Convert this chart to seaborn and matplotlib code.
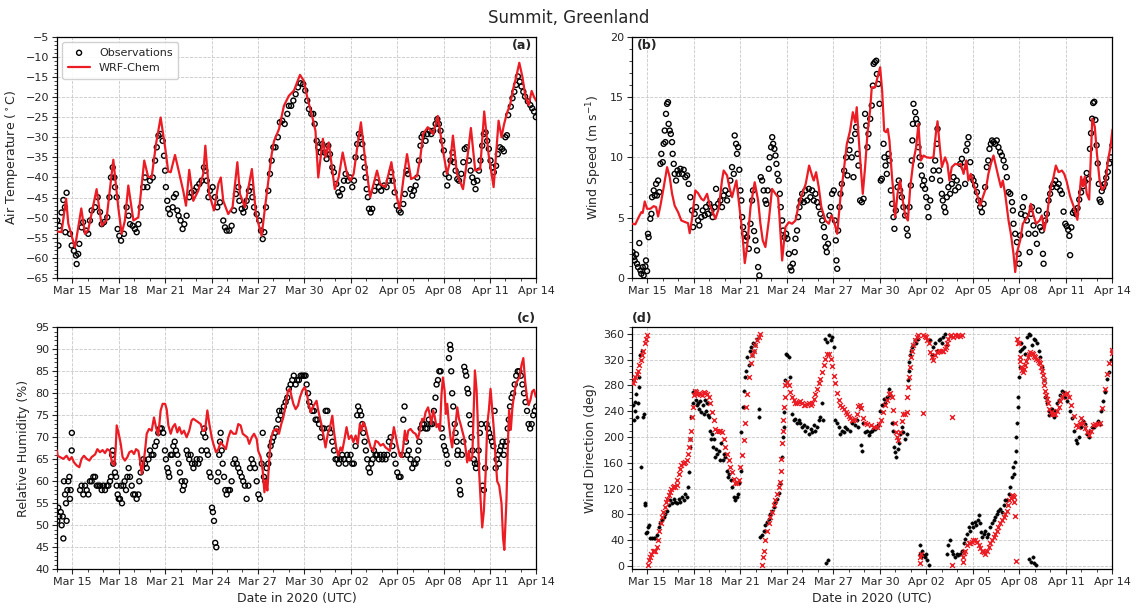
import numpy as np
import pandas as pd
import matplotlib
matplotlib.use('Agg')
import matplotlib.pyplot as plt
import matplotlib.dates as mdates
from matplotlib.ticker import MultipleLocator
import seaborn as sns

# times are days after 2020-03-14 00:00 UTC
start = pd.Timestamp('2020-03-14')

# (a) air temperature
temp_obs_d = [0.03,0.1,0.16,0.3,0.42,0.52,0.55,0.63,0.85,0.96,1.1,1.24,1.28,1.38,1.45,1.6,1.7,1.89,2.03,2.14,2.25,2.47,2.64,2.79,2.9,3.05,3.26,3.4,3.5,3.61,3.72,3.76,3.87,3.93,4.04,4.15,4.34,4.51,4.64,4.73,4.9,5.05,5.16,5.27,5.42,5.59,5.7,5.85,6.02,6.2,6.35,6.46,6.57,6.71,6.84,6.93,7.0,7.05,7.14,7.2,7.31,7.49,7.57,7.7,7.79,7.87,8.0,8.13,8.24,8.39,8.56,8.71,8.86,9.04,9.21,9.36,9.51,9.6,9.69,9.8,9.9,10.07,10.22,10.37,10.55,10.76,10.87,10.98,11.15,11.3,11.45,11.58,11.73,11.8,11.95,12.06,12.16,12.27,12.42,12.55,12.64,12.75,12.92,13.09,13.2,13.31,13.41,13.52,13.67,13.78,13.89,14.0,14.14,14.29,14.42,14.57,14.73,14.9,15.0,15.15,15.29,15.44,15.59,15.76,15.93,16.06,16.19,16.3,16.45,16.58,16.67,16.8,16.9,17.05,17.16,17.31,17.44,17.55,17.66,17.81,17.91,18.07,18.2,18.3,18.45,18.56,18.67,18.82,18.95,19.1,19.21,19.31,19.42,19.53,19.64,19.75,19.81,19.9,19.96,20.03,20.11,20.18,20.29,20.39,20.54,20.67,20.82,20.97,21.15,21.32,21.47,21.62,21.71,21.84,21.97,22.12,22.23,22.4,22.5,22.61,22.7,22.87,22.98,23.09,23.2,23.3,23.41,23.51,23.58,23.69,23.84,23.95,24.1,24.21,24.33,24.49,24.6,24.7,24.81,24.92,25.02,25.13,25.24,25.35,25.45,25.58,25.67,25.78,25.89,26.0,26.15,26.28,26.37,26.49,26.64,26.75,26.86,26.96,27.07,27.18,27.29,27.39,27.5,27.61,27.72,27.82,27.93,28.04,28.15,28.25,28.4,28.51,28.65,28.79,28.9,29.0,29.1,29.18,29.35,29.46,29.58,29.69,29.81,29.93,30.04,30.16,30.27,30.45,30.61,30.73,30.85,30.97]
temp_obs = [-50.7,-56.9,-52,-48.7,-45.6,-47.4,-53.6,-43.8,-54,-56.9,-58.2,-59.4,-61.5,-59,-56.5,-52.4,-51.1,-53.2,-54,-50.7,-48.2,-47.4,-44.9,-48.6,-51.6,-51.1,-49.9,-44.9,-40,-37.5,-40,-42.4,-44.9,-52.8,-54.5,-55.7,-54,-47.4,-49.5,-51.6,-52,-52.8,-53.6,-51.6,-47.4,-42.4,-40,-42.4,-40.8,-40,-35.8,-32.5,-29.6,-29.2,-30.9,-34.6,-38.3,-42.4,-45.8,-47.8,-49.1,-47.4,-44.9,-44.1,-48.2,-49.5,-50.7,-52.8,-51.6,-49.5,-44.9,-43.7,-43.3,-42.4,-41.6,-40.8,-37.5,-38.3,-40.8,-44.9,-43.3,-42.4,-44.9,-47.4,-46.2,-50.7,-52.4,-53.2,-53.2,-52,-48.2,-44.1,-42.4,-45.8,-47.8,-48.7,-47.4,-45.8,-43.3,-42.4,-44.9,-47.4,-49.1,-50.7,-53.2,-55.3,-53.6,-47.4,-43.3,-39.1,-35.8,-32.5,-32.5,-30,-26.3,-25.9,-26.7,-24.2,-22.2,-22.2,-20.9,-19.3,-17.6,-16.6,-16.8,-18.4,-20.9,-23,-24.2,-24.2,-26.7,-30.9,-32.5,-33.8,-31.7,-33.8,-35.4,-32.1,-34.2,-37.5,-38.7,-41.6,-43.7,-44.5,-42.9,-40.8,-39.1,-40.8,-40,-42.4,-40.8,-35,-31.7,-29.2,-30,-31.7,-35,-37.5,-40,-42.9,-44.9,-47.8,-48.7,-47.8,-43.3,-41.2,-42.4,-43.3,-42,-42.4,-40.8,-38.7,-40.8,-43.7,-47,-48.2,-48.7,-46.6,-44.1,-38.3,-39.1,-42.9,-44.5,-43.3,-42,-40,-35.8,-32.1,-30,-29.2,-30.9,-29.2,-28.4,-29.2,-28.4,-26.7,-25.5,-26.7,-28.4,-30.9,-33.3,-39.1,-42,-40,-35.8,-33.8,-36.2,-38.3,-40.4,-40.8,-39.1,-36.2,-32.9,-32.5,-35.8,-38.3,-40,-41.2,-42.9,-40.8,-38.3,-35.8,-32.1,-29.2,-28.8,-30.9,-32.9,-35.8,-37.5,-38.7,-37.1,-34.2,-32.5,-32.9,-33.5,-30,-29.5,-24.5,-22.4,-20.3,-18.7,-17,-14.9,-16.2,-17.4,-18.7,-19.9,-21.1,-22,-22.8,-23.6,-25]
temp_mod_d = [0.0,0.3,0.6,0.74,1.17,1.58,1.82,2.03,2.57,2.9,3.2,3.65,3.97,4.19,4.4,4.62,4.95,5.27,5.65,5.9,6.13,6.41,6.71,7.0,7.2,7.36,7.64,7.85,8.17,8.35,8.56,8.82,9.14,9.47,9.6,9.85,10.16,10.45,10.6,10.76,11.08,11.36,11.67,11.84,12.16,12.31,12.61,12.87,13.24,13.46,13.89,14.04,14.36,14.68,15.0,15.33,15.72,15.97,16.19,16.5,16.72,16.9,17.2,17.37,17.58,17.76,17.97,18.22,18.48,18.76,18.97,19.19,19.45,19.66,19.94,20.26,20.48,20.7,20.91,21.24,21.63,21.89,22.16,22.42,22.64,22.9,23.29,23.5,23.68,23.98,24.33,24.63,24.9,25.22,25.44,25.61,25.87,26.26,26.52,26.77,27.05,27.37,27.63,27.91,28.24,28.56,28.75,28.9,29.1,29.3,29.5,29.7,29.9,30.1,30.3,30.5,30.7,30.85,31.0]
temp_mod = [-53.4,-53.6,-45.3,-51.5,-57.4,-47.7,-54,-53,-42.9,-52,-50.7,-35.6,-47.4,-54,-50.7,-42,-50.7,-49.9,-35.8,-39.8,-40,-31.7,-25.1,-32.5,-38.5,-38.7,-34.4,-37.9,-43.3,-47,-38.1,-45.8,-43.3,-39.1,-32.1,-44.1,-48.2,-41.5,-40,-45.8,-49.1,-47.4,-36.2,-44.1,-47.4,-44.1,-37.9,-49.1,-54.5,-47.4,-34.2,-31,-28,-22.2,-19.7,-18.4,-14.5,-16,-20.1,-24.7,-28.4,-40,-30.4,-35,-31.3,-36.7,-42.9,-40,-33.8,-39.1,-40.8,-39.1,-31.7,-26.3,-35.8,-44.9,-41.6,-38.3,-41.6,-42.4,-36.2,-43.3,-47.8,-40,-34.2,-40.4,-39.6,-35,-29.2,-27.5,-29.2,-24.7,-31.7,-39.1,-35.8,-29.6,-39.1,-42.9,-35.8,-27.7,-38.3,-37.9,-23.6,-34.2,-42.4,-25.9,-30,-27,-24,-22,-18,-15,-11.5,-15,-20,-22,-18.5,-20,-21]

# (b) wind speed
ws_obs_d = [0.06,0.13,0.19,0.28,0.34,0.41,0.49,0.56,0.62,0.71,0.77,0.88,0.92,0.99,1.05,1.09,1.2,1.27,1.31,1.42,1.48,1.57,1.63,1.7,1.78,1.85,1.91,2.0,2.06,2.13,2.17,2.21,2.28,2.34,2.38,2.45,2.52,2.6,2.64,2.71,2.77,2.86,2.95,3.03,3.14,3.25,3.35,3.46,3.57,3.67,3.78,3.89,3.96,4.06,4.15,4.28,4.36,4.49,4.58,4.71,4.79,4.92,5.01,5.14,5.22,5.35,5.44,5.57,5.72,5.82,5.93,6.04,6.15,6.26,6.36,6.47,6.58,6.64,6.73,6.79,6.86,6.94,7.01,7.07,7.12,7.18,7.25,7.33,7.44,7.55,7.66,7.76,7.82,7.89,7.98,8.08,8.15,8.23,8.32,8.41,8.51,8.62,8.69,8.77,8.84,8.9,8.99,9.06,9.12,9.2,9.27,9.33,9.4,9.48,9.55,9.61,9.7,9.76,9.85,9.96,10.04,10.13,10.23,10.3,10.39,10.51,10.56,10.66,10.73,10.82,10.9,10.99,11.1,11.2,11.31,11.42,11.52,11.63,11.74,11.85,11.95,12.06,12.17,12.28,12.39,12.45,12.51,12.58,12.66,12.75,12.84,12.92,13.03,13.1,13.16,13.2,13.25,13.31,13.4,13.46,13.55,13.7,13.83,13.91,14.04,14.13,14.19,14.3,14.41,14.47,14.56,14.62,14.73,14.84,14.95,15.05,15.12,15.2,15.27,15.38,15.48,15.55,15.6,15.68,15.77,15.81,15.9,15.98,16.06,16.13,16.24,16.3,16.37,16.45,16.56,16.62,16.71,16.79,16.88,16.94,17.03,17.14,17.22,17.31,17.42,17.52,17.63,17.74,17.8,17.91,18.0,18.06,18.1,18.13,18.17,18.28,18.34,18.43,18.49,18.56,18.64,18.71,18.77,18.86,18.92,18.99,19.07,19.14,19.25,19.36,19.46,19.57,19.68,19.72,19.81,19.89,20.0,20.06,20.15,20.23,20.32,20.42,20.53,20.64,20.75,20.86,20.96,21.07,21.18,21.29,21.4,21.5,21.57,21.65,21.72,21.83,21.93,22.04,22.15,22.26,22.36,22.47,22.58,22.69,22.79,22.9,22.99,23.07,23.16,23.24,23.33,23.44,23.54,23.65,23.76,23.87,23.98,24.09,24.19,24.3,24.41,24.52,24.58,24.62,24.73,24.84,24.95,24.99,25.05,25.11,25.22,25.31,25.37,25.48,25.59,25.66,25.74,25.81,25.91,26.02,26.13,26.24,26.34,26.45,26.52,26.56,26.66,26.77,26.88,26.98,27.09,27.2,27.31,27.42,27.53,27.63,27.74,27.85,27.96,28.05,28.15,28.22,28.27,28.35,28.45,28.55,28.65,28.75,28.86,28.98,29.1,29.22,29.34,29.46,29.55,29.62,29.69,29.76,29.83,29.9,29.98,30.05,30.12,30.17,30.24,30.31,30.4,30.5,30.6,30.7,30.8,30.9,31.0]
ws_obs = [2.15,1.74,1.46,1.96,1.19,0.91,2.9,0.63,0.36,0.91,0.22,0.97,1.46,0.58,3.67,3.39,4.91,5.32,6.7,7.26,6.84,7.8,6.84,8.08,7.12,9.46,10.29,9.6,11.12,12.22,11.26,13.6,14.43,14.57,12.77,12.22,11.94,11.26,10.29,9.46,8.63,8.08,8.91,8.63,9.05,8.63,8.97,8.36,8.5,7.8,6.7,5.6,4.22,5.32,5.88,4.77,4.36,5.05,5.6,5.19,5.88,5.32,6.15,5.6,5.05,5.88,7.39,6.15,6.43,5.88,6.84,7.26,6.43,6.98,8.08,9.19,8.63,11.81,11.12,10.29,10.84,8.97,7.26,6.43,5.05,4.22,3.67,3.12,3.39,2.43,4.5,6.43,7.26,3.89,3.12,2.29,0.91,0.22,8.36,8.08,7.26,6.43,6.15,7.26,9.05,10.0,10.84,11.67,11.12,10.7,10.15,9.46,8.63,8.08,6.98,5.88,4.77,3.94,3.39,3.67,3.26,2.01,0.91,0.63,1.19,2.15,3.26,3.94,5.05,5.88,6.43,6.98,6.29,7.26,6.43,7.39,6.7,7.26,6.43,6.98,6.29,5.88,5.32,4.77,4.22,3.39,2.57,2.15,2.84,5.19,5.88,6.98,7.26,4.77,3.12,1.46,0.77,3.94,5.88,6.98,7.8,8.9,10.0,8.5,10.6,11.4,10.0,8.36,11.94,12.5,10.29,9.32,6.43,6.29,6.57,13.6,12.63,10.84,11.94,13.19,14.29,15.94,17.74,17.88,18.0,16.9,16.08,14.43,8.08,8.22,11.12,10.0,9.32,8.63,10.29,9.74,7.26,6.15,5.05,4.08,5.6,7.53,8.08,7.26,6.7,5.88,5.19,4.08,3.53,5.88,7.67,9.74,11.4,12.77,14.43,13.74,13.19,12.77,10.84,10.0,9.32,8.5,7.67,8.08,7.39,6.7,5.88,5.05,6.43,8.22,8.91,9.74,11.12,12.36,8.91,8.08,6.98,6.43,5.88,5.46,6.7,7.53,6.98,7.8,8.36,7.26,8.08,7.53,9.46,9.88,9.19,7.8,10.57,11.12,11.67,9.6,8.36,8.08,7.67,7.12,6.43,5.88,5.46,6.15,7.53,9.19,9.74,10.7,11.12,11.4,11.26,11.12,11.4,10.84,10.43,10.15,9.74,9.19,8.36,7.12,6.98,6.29,5.6,4.5,3.67,2.98,2.01,1.19,3.53,5.32,5.88,6.7,5.19,4.77,3.67,2.15,5.32,5.88,4.36,3.67,2.84,5.6,4.22,3.94,2.01,1.19,4.77,5.32,6.43,6.98,7.53,7.8,8.08,7.53,7.8,7.26,6.98,5.5,4.5,4.3,4.0,3.5,1.9,4.2,5.4,5.6,5.3,5.8,6.5,7.1,7.6,8.0,8.7,8.2,10.7,12.0,13.2,14.5,14.6,13.1,11.0,9.5,7.8,6.5,6.3,7.2,7.5,7.8,8.3,8.8,9.5,10.0,11.0]
ws_mod_d = [0.06,0.23,0.45,0.62,0.71,0.84,0.99,1.2,1.42,1.57,1.7,1.85,2.06,2.28,2.45,2.6,2.77,2.99,3.2,3.46,3.63,3.74,3.89,4.1,4.28,4.49,4.64,4.86,5.01,5.18,5.4,5.61,5.82,5.93,6.15,6.3,6.47,6.58,6.75,6.9,7.12,7.29,7.44,7.66,7.93,8.15,8.3,8.45,8.62,8.84,9.05,9.27,9.44,9.53,9.7,9.91,10.13,10.34,10.56,10.78,11.0,11.22,11.44,11.66,11.74,11.89,12.06,12.23,12.49,12.71,12.88,13.03,13.25,13.46,13.65,13.87,14.08,14.26,14.41,14.51,14.62,14.77,14.9,15.05,15.2,15.37,15.48,15.7,15.85,16.02,16.15,16.28,16.4,16.51,16.62,16.77,16.88,16.99,17.14,17.31,17.48,17.64,17.81,17.96,18.17,18.34,18.49,18.64,18.82,19.03,19.25,19.46,19.61,19.72,19.85,20.0,20.21,20.36,20.49,20.64,20.86,21.07,21.22,21.4,21.57,21.71,21.87,22.04,22.26,22.47,22.64,22.86,23.0,23.16,23.33,23.5,23.65,23.81,23.93,24.08,24.3,24.45,24.62,24.73,24.88,25.05,25.22,25.37,25.59,25.74,25.91,26.08,26.3,26.45,26.6,26.77,26.98,27.2,27.35,27.53,27.74,27.89,28.05,28.27,28.5,28.74,28.98,29.1,29.22,29.34,29.5,29.7,29.86,30.0,30.17,30.33,30.52,30.72,30.88,31.0]
ws_mod = [4.5,4.45,5.05,5.46,5.4,6.35,5.74,5.74,5.96,5.88,5.1,6.0,7.5,9.19,8.36,7.0,6.0,5.46,4.77,4.63,4.55,3.72,4.91,7.26,7.03,6.57,6.43,6.98,6.15,5.6,4.91,5.74,8.08,8.91,8.5,7.53,6.7,7.26,8.08,6.43,3.94,1.24,2.57,5.88,7.94,6.43,4.5,3.12,2.57,4.77,7.39,6.98,6.7,5.05,1.46,4.22,4.63,4.5,4.77,6.15,6.98,7.8,9.32,8.36,8.08,8.77,7.53,5.88,4.77,4.5,5.19,4.77,3.67,6.7,8.63,11.1,12.2,13.74,12.9,14.15,11.94,9.19,6.98,9.19,11.94,13.88,15.8,15.8,16.63,17.46,15.5,12.2,12.08,12.36,11.4,8.63,6.98,5.05,6.98,8.08,6.43,5.19,4.77,7.53,9.74,10.84,12.77,9.74,10.15,10.0,9.96,10.0,11.94,12.99,11.1,9.19,10.0,9.46,8.08,9.19,9.46,9.4,9.46,8.63,9.74,8.08,8.63,7.8,6.98,6.0,6.7,7.53,8.63,9.46,10.15,9.19,8.36,7.53,8.08,6.98,4.77,3.67,2.01,0.5,2.29,3.12,4.5,4.77,5.19,6.15,5.19,4.5,4.77,5.19,3.94,5.05,7.26,8.36,9.32,8.77,8.91,8.63,8.0,6.76,5.93,4.83,8.4,7.6,8.4,7.0,6.5,13.2,12.55,10.3,8.1,7.3,7.6,9.8,10.9,12.3]

# (c) relative humidity
rh_obs_d = [0.03,0.09,0.16,0.25,0.31,0.38,0.42,0.46,0.53,0.59,0.63,0.68,0.74,0.81,0.85,0.89,0.96,0.97,1.5,1.6,1.71,1.82,1.93,2.04,2.14,2.25,2.36,2.47,2.58,2.68,2.79,2.9,3.01,3.11,3.22,3.33,3.44,3.5,3.57,3.61,3.65,3.76,3.83,3.87,3.93,4.0,4.08,4.15,4.21,4.3,4.38,4.47,4.56,4.64,4.73,4.84,4.94,5.05,5.16,5.27,5.33,5.42,5.51,5.59,5.7,5.81,5.92,6.02,6.13,6.24,6.35,6.45,6.56,6.67,6.78,6.88,6.99,7.05,7.14,7.21,7.27,7.36,7.45,7.53,7.62,7.7,7.79,7.87,7.96,8.07,8.14,8.22,8.29,8.39,8.48,8.56,8.65,8.74,8.83,8.93,9.04,9.15,9.25,9.36,9.47,9.53,9.6,9.69,9.77,9.86,9.94,10.03,10.09,10.16,10.24,10.31,10.37,10.44,10.5,10.55,10.59,10.66,10.72,10.81,10.89,10.98,11.09,11.19,11.3,11.41,11.52,11.63,11.73,11.84,11.95,12.05,12.16,12.27,12.38,12.49,12.59,12.7,12.81,12.92,13.03,13.13,13.24,13.31,13.39,13.48,13.56,13.67,13.74,13.82,13.91,14.0,14.1,14.21,14.32,14.38,14.47,14.57,14.68,14.79,14.9,15.0,15.11,15.22,15.32,15.44,15.54,15.65,15.76,15.87,15.98,16.08,16.15,16.24,16.32,16.41,16.52,16.62,16.73,16.84,16.95,17.05,17.16,17.27,17.38,17.49,17.59,17.7,17.81,17.92,18.02,18.13,18.23,18.34,18.45,18.56,18.67,18.77,18.88,18.99,19.1,19.2,19.31,19.42,19.48,19.59,19.68,19.75,19.81,19.9,19.98,20.07,20.15,20.24,20.33,20.42,20.5,20.61,20.71,20.82,20.93,21.04,21.15,21.25,21.36,21.47,21.58,21.69,21.79,21.9,22.01,22.12,22.22,22.33,22.4,22.48,22.57,22.65,22.76,22.87,22.98,23.09,23.19,23.3,23.37,23.43,23.52,23.63,23.73,23.84,23.95,24.05,24.16,24.27,24.38,24.48,24.55,24.64,24.73,24.81,24.88,24.94,25.03,25.12,25.2,25.28,25.35,25.42,25.46,25.5,25.56,25.63,25.72,25.78,25.85,25.89,25.93,26.0,26.06,26.1,26.19,26.28,26.34,26.41,26.47,26.54,26.6,26.66,26.75,26.81,26.88,26.96,27.03,27.1,27.18,27.27,27.35,27.44,27.52,27.61,27.69,27.78,27.87,27.95,28.04,28.13,28.22,28.3,28.37,28.43,28.52,28.58,28.65,28.73,28.82,28.9,29.0,29.07,29.15,29.22,29.3,29.4,29.5,29.6,29.7,29.8,29.9,30.0,30.1,30.2,30.3,30.4,30.5,30.6,30.7,30.8,30.9,31.0]
rh_obs = [51,54,52,53,50,52,47,60,57,55,51,58,60,61,56,58,67,71,58,59,57,59,58,57,60,60,61,61,59,59,59,58,59,58,59,59,60,61,66,67,64,62,61,59,57,56,56,59,55,59,60,58,61,63,61,59,57,57,56,57,60,62,64,65,64,63,65,67,66,66,68,69,71,72,72,71,67,65,63,62,61,66,66,68,69,67,66,64,62,60,58,59,60,67,66,65,66,64,63,64,65,64,65,67,71,72,70,67,66,62,61,54,53,51,46,45,60,62,66,69,71,67,64,61,58,57,58,58,60,64,65,64,63,62,61,60,59,56,59,63,65,64,63,60,57,56,64,71,61,60,63,64,66,68,69,70,71,72,74,76,75,76,77,78,79,81,82,83,84,82,83,83,84,84,84,84,82,80,78,77,76,76,74,74,73,70,72,72,76,76,72,71,69,67,65,65,64,65,66,65,64,66,65,66,64,64,68,75,77,76,75,73,71,69,67,65,63,62,64,65,67,66,66,65,66,65,66,65,66,69,70,68,66,64,62,61,61,66,74,77,69,66,67,65,63,64,64,65,67,69,72,73,73,72,72,74,73,73,76,79,82,83,85,85,72,70,68,67,66,64,88,91,90,85,80,77,73,71,69,66,67,60,58,57,66,69,86,85,84,81,80,75,73,70,67,65,64,63,64,67,71,73,59,58,63,73,72,71,70,69,68,76,63,65,66,64,67,68,69,66,68,69,72,74,77,79,80,82,84,85,85,84,82,80,78,76,73,72,73,75,76,77]
rh_mod_d = [0.0,0.05,0.2,0.42,0.63,0.81,0.96,1.11,1.28,1.45,1.6,1.75,1.93,2.1,2.25,2.47,2.62,2.79,2.96,3.11,3.26,3.43,3.56,3.72,3.8,3.87,4.0,4.13,4.25,4.4,4.56,4.69,4.84,4.99,5.12,5.27,5.38,5.49,5.59,5.7,5.81,5.96,6.13,6.28,6.41,6.56,6.71,6.84,7.0,7.1,7.21,7.36,7.49,7.64,7.79,7.92,8.07,8.22,8.39,8.56,8.71,8.82,8.99,9.14,9.3,9.43,9.58,9.73,9.86,10.01,10.12,10.29,10.44,10.59,10.76,10.93,11.09,11.24,11.41,11.58,11.73,11.88,12.02,12.16,12.31,12.44,12.6,12.75,12.92,13.02,13.18,13.31,13.42,13.52,13.61,13.74,13.84,14.0,14.21,14.36,14.51,14.64,14.79,14.94,15.07,15.16,15.29,15.44,15.59,15.72,15.87,16.02,16.15,16.28,16.41,16.54,16.67,16.79,16.9,17.05,17.22,17.37,17.52,17.66,17.81,17.91,18.06,18.19,18.34,18.45,18.6,18.73,18.88,19.04,19.17,19.32,19.46,19.59,19.7,19.81,19.96,20.11,20.29,20.46,20.61,20.76,20.93,21.1,21.25,21.4,21.53,21.68,21.79,21.92,22.05,22.18,22.29,22.39,22.5,22.61,22.72,22.87,23.04,23.19,23.34,23.47,23.62,23.73,23.84,24.0,24.1,24.21,24.33,24.44,24.55,24.66,24.77,24.87,24.96,25.07,25.15,25.24,25.35,25.45,25.56,25.67,25.78,25.89,26.0,26.1,26.21,26.32,26.42,26.53,26.64,26.7,26.86,26.96,27.03,27.14,27.22,27.31,27.4,27.5,27.61,27.72,27.83,27.93,28.04,28.15,28.26,28.36,28.47,28.6,28.75,28.85,28.93,29.07,29.17,29.24,29.35,29.46,29.58,29.69,29.81,29.93,30.04,30.16,30.27,30.39,30.5,30.62,30.73,30.85,30.97]
rh_mod = [67,65.8,65.5,65.1,65.8,64.8,65.5,64.3,63.6,63.2,65.1,65.8,65.1,64.7,65.5,66.1,67.3,66.6,67.1,66.4,67.3,66.9,64.3,63.6,67.3,72.7,70.8,68.5,65.5,64.7,65.5,66.6,66.9,66.2,67.3,66.9,64.7,61.7,63.9,66.9,70.8,71.9,71.5,74.5,72.3,70.4,76.1,77.6,77.6,76.4,72.7,70.8,72.3,73,71.1,72.3,70.8,71.5,70,71.5,73.8,74.2,73.8,73.4,73,71.5,71.5,76.1,73,70,68.5,66.6,67.3,68.9,68.1,67.3,70,71.5,70.8,70.8,73,72.7,70.8,70.4,70,68.5,70,70.8,69.6,66.9,65.5,62.4,57.5,60.2,57.9,65.5,69.6,71.5,71.9,70.8,73,74.5,77.2,80.6,81,79.5,77.6,76.4,77.2,79.1,80.6,81.4,80.2,77.6,75.7,76.8,77.6,78.3,76.1,73.8,70.8,67.7,70.8,72.3,74.9,71.5,67.7,65.8,67.7,66.9,69.6,72.3,69.6,70.4,68.9,70.4,68.5,73,71.5,73.4,72.3,70,67.7,66.9,69.2,68.9,68.1,68.5,67.7,67.3,66.9,69.6,72.3,70,67.7,65.8,65.5,67.7,71.5,69.2,71.5,71.9,71.1,70.8,69.6,71.5,74.2,73.8,75.7,76.8,75.3,73,76.1,74.5,72.3,73,71.5,79.8,83.6,80.6,75.3,77.6,73,70,67.7,71.5,73,76.8,74.2,73,71.5,70,67.7,64.3,66.9,64.7,65.5,76.8,85.2,80.6,73,61.7,55.6,49.5,53.3,61.7,73,76.1,81,76.1,71.5,65.5,60,59,55,47,44.4,55.8,69.4,76.2,71.7,77,80,82.3,83,83.8,86.4,88,83,79.2,77.3,78.5,80.4,80.8,79.2]

# (d) wind direction
wd_obs_d = [0.06,0.13,0.19,0.23,0.28,0.32,0.41,0.45,0.49,0.56,0.62,0.66,0.71,0.77,0.84,0.88,0.92,0.99,1.05,1.09,1.18,1.31,1.42,1.53,1.63,1.74,1.85,1.96,2.06,2.17,2.28,2.39,2.49,2.6,2.71,2.82,2.92,3.03,3.14,3.25,3.35,3.46,3.57,3.63,3.68,3.74,3.78,3.85,3.92,3.98,4.06,4.15,4.21,4.28,4.36,4.43,4.49,4.58,4.64,4.71,4.79,4.86,4.92,5.01,5.07,5.14,5.18,5.25,5.31,5.4,5.46,5.53,5.61,5.69,5.78,5.87,5.93,6.04,6.13,6.21,6.3,6.39,6.47,6.58,6.68,6.77,6.86,6.95,7.03,7.07,7.16,7.22,7.29,7.38,7.46,7.55,7.61,7.68,7.76,7.83,7.89,7.98,8.08,8.19,8.23,8.3,8.41,8.51,8.62,8.73,8.84,8.94,9.05,9.16,9.27,9.37,9.48,9.59,9.7,9.76,9.8,9.85,9.91,9.98,10.04,10.13,10.23,10.34,10.45,10.56,10.66,10.77,10.88,10.99,11.1,11.2,11.31,11.42,11.53,11.63,11.74,11.85,11.96,12.06,12.17,12.28,12.34,12.49,12.55,12.6,12.66,12.71,12.82,12.92,13.03,13.14,13.25,13.35,13.46,13.57,13.68,13.76,13.91,14.08,14.19,14.3,14.41,14.51,14.62,14.73,14.8,14.85,14.9,15.05,15.16,15.27,15.37,15.48,15.59,15.7,15.81,15.91,16.02,16.13,16.24,16.34,16.45,16.56,16.67,16.77,16.84,16.92,16.99,17.05,17.14,17.22,17.31,17.42,17.52,17.63,17.74,17.8,17.85,17.91,17.96,18.02,18.08,18.17,18.28,18.34,18.45,18.56,18.6,18.67,18.73,18.81,18.92,18.98,19.07,19.14,19.25,19.36,19.46,19.57,19.68,19.79,19.89,20.0,20.1,20.21,20.32,20.36,20.42,20.53,20.64,20.75,20.86,20.96,21.07,21.18,21.29,21.4,21.5,21.61,21.72,21.83,21.94,22.04,22.15,22.22,22.3,22.37,22.43,22.52,22.58,22.69,22.79,22.9,23.0,23.12,23.23,23.33,23.44,23.55,23.65,23.76,23.87,23.98,24.09,24.19,24.3,24.41,24.51,24.58,24.62,24.69,24.76,24.8,24.84,24.88,24.93,24.97,25.01,25.05,25.12,25.19,25.27,25.37,25.48,25.59,25.6,25.7,25.72,25.81,25.85,25.91,25.95,26.02,26.05,26.13,26.24,26.34,26.45,26.56,26.66,26.77,26.88,26.94,27.03,27.12,27.2,27.31,27.42,27.53,27.63,27.74,27.79,27.91,28.1,28.27,28.39,28.51,28.63,28.74,28.86,28.98,29.1,29.22,29.34,29.46,29.58,29.69,29.81,29.93,30.05,30.17,30.29,30.41,30.53,30.64,30.76,30.88,31.0]
wd_obs = [249,226,241,254,267,231,252,278,293,327,153,334,231,236,94,97,51,53,60,63,44,43,43,44,48,60,66,71,76,81,86,94,102,97,104,99,97,104,99,107,102,112,107,122,146,185,197,231,252,270,272,257,249,252,244,256,239,249,236,257,241,252,234,231,210,197,205,185,197,169,182,174,179,165,190,164,174,169,148,138,143,133,122,107,102,107,112,128,148,208,247,272,293,303,324,311,334,340,327,345,334,342,352,231,244,45,48,55,63,68,73,81,86,92,97,104,113,128,169,200,216,239,288,329,327,324,293,236,226,228,221,226,221,216,218,210,216,205,213,208,218,210,216,226,231,252,226,352,4,347,9,358,350,355,340,226,221,216,205,210,208,216,213,210,221,226,218,226,216,247,187,179,221,208,210,203,208,210,213,213,216,218,241,249,259,252,262,275,265,221,210,185,177,169,182,190,205,216,208,197,205,288,303,316,327,334,340,342,350,345,352,19,32,14,24,17,14,19,9,1,350,327,340,345,334,350,352,345,355,359,342,19,32,40,24,19,14,19,17,19,24,35,42,50,60,55,66,60,68,63,71,79,66,53,45,50,55,45,50,60,66,71,76,81,86,89,84,94,102,102,112,122,138,153,143,161,179,200,221,247,262,293,309,334,345,337,340,329,355,360,11,358,6,342,14,352,4,350,1,345,334,324,309,288,262,252,241,234,236,244,231,241,252,257,265,272,270,262,255,240,230,210,195,190,200,215,225,220,205,200,210,215,215,220,225,220,240,255,270,290,300,320,335]
wd_mod_d = [0.06,0.15,0.23,0.32,0.41,0.49,0.58,0.66,0.75,0.84,0.92,1.01,1.07,1.14,1.2,1.27,1.35,1.44,1.53,1.63,1.7,1.78,1.87,1.96,2.04,2.13,2.21,2.3,2.39,2.47,2.56,2.65,2.73,2.81,2.9,2.95,3.03,3.12,3.2,3.29,3.37,3.46,3.55,3.61,3.68,3.74,3.8,3.87,3.93,4.0,4.06,4.15,4.23,4.32,4.43,4.53,4.64,4.75,4.86,4.96,5.07,5.18,5.29,5.4,5.5,5.61,5.72,5.82,5.93,6.04,6.15,6.26,6.36,6.47,6.58,6.68,6.79,6.9,7.01,7.12,7.22,7.29,7.38,7.46,7.55,7.66,7.76,7.87,7.98,8.08,8.19,8.28,8.37,8.45,8.54,8.62,8.73,8.84,8.94,9.05,9.16,9.27,9.37,9.48,9.57,9.61,9.65,9.7,9.74,9.78,9.83,9.87,9.91,10.02,10.13,10.23,10.34,10.45,10.56,10.66,10.77,10.88,10.99,11.1,11.2,11.31,11.42,11.53,11.63,11.74,11.85,11.96,12.06,12.17,12.28,12.39,12.49,12.6,12.71,12.82,12.92,13.03,13.14,13.25,13.35,13.46,13.57,13.68,13.8,13.91,14.0,14.1,14.2,14.3,14.41,14.52,14.62,14.7,14.8,14.92,15.05,15.2,15.4,15.6,15.8,15.95,16.05,16.2,16.35,16.45,16.56,16.67,16.77,16.88,16.96,17.02,17.1,17.2,17.3,17.42,17.52,17.62,17.72,17.78,17.82,17.87,17.92,17.98,18.05,18.16,18.28,18.39,18.49,18.56,18.6,18.64,18.77,18.81,18.9,18.98,19.06,19.14,19.25,19.36,19.46,19.57,19.68,19.79,19.89,20.0,20.1,20.18,20.27,20.35,20.42,20.52,20.61,20.66,20.68,20.75,20.86,20.96,21.07,21.18,21.27,21.35,21.38,21.44,21.5,21.6,21.72,21.83,21.94,22.04,22.15,22.26,22.37,22.47,22.56,22.64,22.72,22.79,22.9,23.01,23.12,23.22,23.33,23.44,23.55,23.65,23.76,23.87,23.98,24.09,24.19,24.28,24.36,24.44,24.51,24.57,24.62,24.68,24.73,24.75,24.84,24.9,24.95,25.01,25.05,25.1,25.16,25.22,25.29,25.37,25.45,25.53,25.62,25.7,25.79,25.87,25.95,26.02,26.1,26.17,26.26,26.34,26.4,26.45,26.5,26.56,26.61,26.66,26.72,26.77,26.85,26.94,27.01,27.09,27.2,27.31,27.42,27.53,27.64,27.74,27.9,28.05,28.2,28.35,28.5,28.65,28.8,28.9,29.0,29.1,29.2,29.35,29.5,29.6,29.75,29.9,30.05,30.2,30.35,30.5,30.65,30.8,30.95,31.0]
wd_mod = [283,288,293,298,303,311,319,327,334,345,352,358,1,9,14,19,23,23,24,29,40,55,66,76,84,92,99,104,110,115,120,122,124,122,125,133,143,151,156,159,160,161,164,174,185,197,210,231,247,265,272,270,267,268,266,265,270,268,267,262,252,239,226,213,209,209,209,208,197,185,174,164,153,146,135,129,128,133,153,172,195,221,247,267,293,314,327,334,342,350,355,359,1,14,24,40,55,66,76,84,94,102,112,122,130,148,166,190,210,226,247,262,280,285,280,270,262,257,252,252,254,256,252,249,249,251,252,249,252,259,267,275,283,290,301,311,321,329,328,321,310,295,283,268,258,250,246,243,238,235,232,229,227,226,228,235,248,250,245,230,222,220,218,216,216,220,226,238,250,258,266,268,262,242,222,208,200,195,208,225,235,236,239,262,278,293,309,324,334,342,350,355,358,14,4,19,237,358,357,355,350,345,332,324,319,327,332,334,334,334,334,337,340,346,352,356,358,231,1,355,358,356,358,357,358,6,14,20,24,32,35,35,38,40,41,38,32,28,24,24,21,19,24,30,35,40,45,50,55,60,66,71,76,81,86,94,102,106,110,108,107,99,77,8,352,346,345,324,317,309,304,301,306,311,318,324,328,332,330,329,326,324,321,319,316,314,308,303,296,288,280,272,265,259,252,244,238,236,236,236,241,247,255,262,266,268,262,250,232,218,215,222,230,222,214,208,203,210,218,220,220,222,245,275,298,315,330,335]

ticks = pd.date_range('2020-03-15', '2020-04-14', freq='3D')
red = '#ec1c24'


def when(days):
    return start + pd.to_timedelta(np.asarray(days, dtype=float), unit='D')


sns.set_theme(style='ticks')
plt.rcParams['font.family'] = ['DejaVu Sans']
plt.rcParams['axes.edgecolor'] = 'black'
plt.rcParams['axes.linewidth'] = 0.9

fig = plt.figure(figsize=(11.37, 6.08), dpi=100)
ax_a = fig.add_axes([0.0500, 0.5426, 0.4217, 0.3972])
ax_b = fig.add_axes([0.5556, 0.5426, 0.4228, 0.3972])
ax_c = fig.add_axes([0.0500, 0.0637, 0.4217, 0.3980])
ax_d = fig.add_axes([0.5556, 0.0637, 0.4228, 0.3980])

panels = [
    (ax_a, temp_obs_d, temp_obs, temp_mod_d, temp_mod),
    (ax_b, ws_obs_d, ws_obs, ws_mod_d, ws_mod),
    (ax_c, rh_obs_d, rh_obs, rh_mod_d, rh_mod),
]
for ax, od, ov, md, mv in panels:
    sns.scatterplot(x=when(od), y=ov, ax=ax, marker='o', s=13,
                    facecolors='none', edgecolor='black', linewidth=1.0,
                    label='Observations', legend=False, zorder=2)
    sns.lineplot(x=when(md), y=mv, ax=ax, color=red, lw=1.6, sort=False,
                 estimator=None, label='WRF-Chem', legend=False, zorder=3)

sns.scatterplot(x=when(wd_obs_d), y=wd_obs, ax=ax_d, marker='o', s=6,
                color='black', edgecolor='black', linewidth=0.3, legend=False, zorder=2)
sns.scatterplot(x=when(wd_mod_d), y=wd_mod, ax=ax_d, marker='x', s=12,
                color=red, linewidth=1.0, legend=False, zorder=3)

ax_a.set_ylim(-65, -5)
ax_b.set_ylim(0, 20)
ax_c.set_ylim(40, 95)
ax_d.set_ylim(-5, 370)
for ax in (ax_a, ax_b, ax_c):
    ax.yaxis.set_major_locator(MultipleLocator(5))
    ax.yaxis.set_minor_locator(MultipleLocator(1))
ax_d.yaxis.set_major_locator(MultipleLocator(40))
ax_d.yaxis.set_minor_locator(MultipleLocator(10))

for ax in (ax_a, ax_b, ax_c, ax_d):
    ax.set_xlim(start, start + pd.Timedelta(days=31))
    ax.set_xticks(ticks)
    ax.xaxis.set_major_formatter(mdates.DateFormatter('%b %d'))
    ax.xaxis.set_minor_locator(mdates.DayLocator())
    ax.grid(True, which='major', ls='--', lw=0.6, color='#c8c8c8')
    ax.tick_params(which='major', labelsize=8, length=3.5, width=0.8, pad=2)
    ax.tick_params(which='minor', length=2, width=0.6)
    ax.set_xlabel('')
    for s in ax.spines.values():
        s.set_visible(True)

ax_a.set_ylabel(r'Air Temperature ($^\circ$C)', fontsize=9)
ax_b.set_ylabel(r'Wind Speed (m s$^{-1}$)', fontsize=9)
ax_c.set_ylabel('Relative Humidity (%)', fontsize=9)
ax_d.set_ylabel('Wind Direction (deg)', fontsize=9)
ax_c.set_xlabel('Date in 2020 (UTC)', fontsize=9)
ax_d.set_xlabel('Date in 2020 (UTC)', fontsize=9)

ax_a.text(0.992, 0.962, '(a)', transform=ax_a.transAxes, ha='right', va='center',
          fontsize=9, fontweight='bold')
ax_b.text(0.01, 0.962, '(b)', transform=ax_b.transAxes, ha='left', va='center',
          fontsize=9, fontweight='bold')
ax_c.set_title('(c)', loc='right', fontsize=9, fontweight='bold', pad=4)
ax_d.set_title('(d)', loc='left', fontsize=9, fontweight='bold', pad=4)

ax_a.legend(loc='upper left', fontsize=8, frameon=True, fancybox=True,
            framealpha=0.9, borderpad=0.5, handlelength=2.0)

fig.text(0.5, 0.970, 'Summit, Greenland', ha='center', va='center', fontsize=12)

fig.savefig('out.png', dpi=100)
